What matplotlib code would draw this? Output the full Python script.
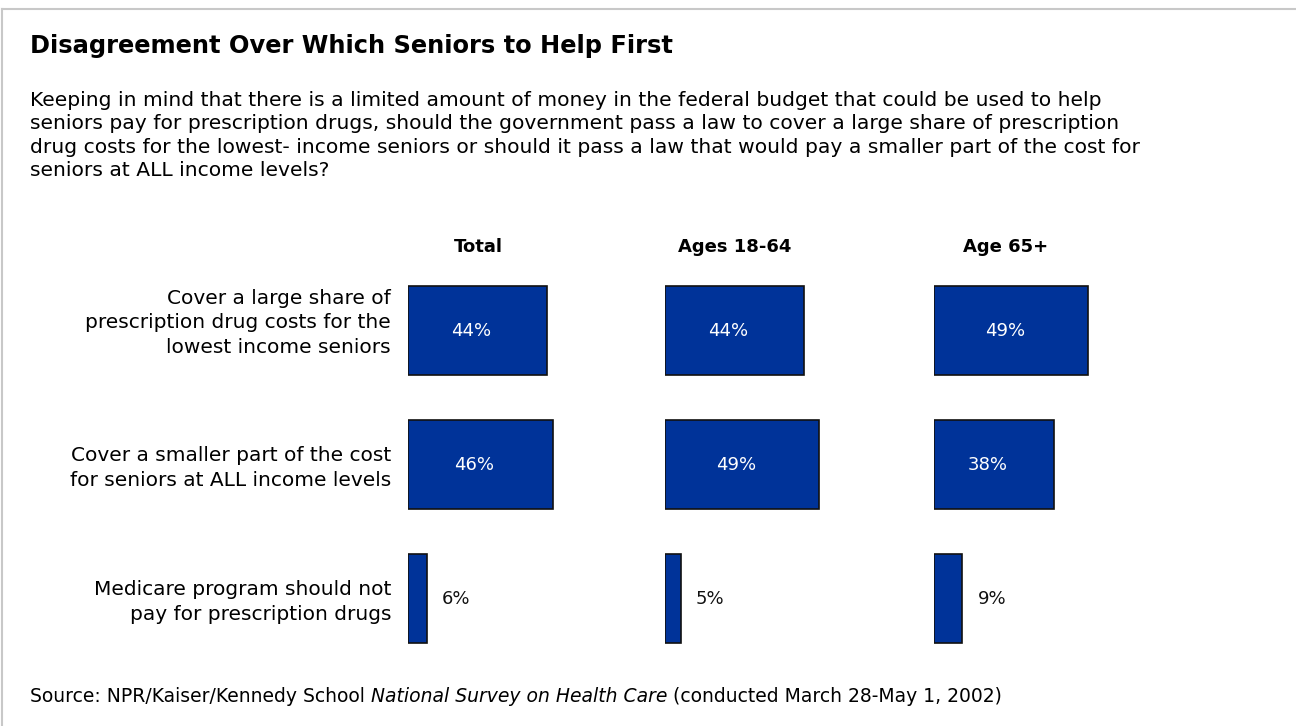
import matplotlib.pyplot as plt
from matplotlib.lines import Line2D

# survey answers, percent
groups = ['Total', 'Ages 18-64', 'Age 65+']
answers = ['Cover a large share of\nprescription drug costs for the\nlowest income seniors',
           'Cover a smaller part of the cost\nfor seniors at ALL income levels',
           'Medicare program should not\npay for prescription drugs']
total = [44, 46, 6]
ages_18_64 = [44, 49, 5]
ages_65_plus = [49, 38, 9]
values = [total, ages_18_64, ages_65_plus]

title = 'Disagreement Over Which Seniors to Help First'
question = ('Keeping in mind that there is a limited amount of money in the federal budget that could be used to help\n'
            'seniors pay for prescription drugs, should the government pass a law to cover a large share of prescription\n'
            'drug costs for the lowest- income seniors or should it pass a law that would pay a smaller part of the cost for\n'
            'seniors at ALL income levels?')
source_parts = [('Source: NPR/Kaiser/Kennedy School ', 'normal'),
                ('National Survey on Health Care', 'italic'),
                (' (conducted March 28-May 1, 2002)', 'normal')]

W, H = 1296, 726
BAR_COLOR = '#003399'

fig = plt.figure(figsize=(W / 100, H / 100), dpi=100)
fig.patch.set_facecolor('white')


def fx(px):
    return px / W


def fy(py):
    return 1 - py / H


# light gray frame at top and left
fig.add_artist(Line2D([fx(2), fx(W)], [fy(9), fy(9)], color='#c8c8c8', lw=1.5))
fig.add_artist(Line2D([fx(2), fx(2)], [fy(9), fy(H)], color='#c8c8c8', lw=1.5))

fig.text(fx(30), fy(46), title, fontsize=17.4, fontweight='bold', va='center', ha='left')
fig.text(fx(30), fy(91), question, fontsize=14.6, va='top', ha='left', linespacing=1.29)

# one axes per group; 3.15 px per percent
px_per_pct = 3.15
lefts = [408, 665, 934]
ax_top, ax_bot = 263.5, 665.5
xmax = 60
for left, vals in zip(lefts, values):
    ax = fig.add_axes([fx(left), fy(ax_bot), xmax * px_per_pct / W, (ax_bot - ax_top) / H])
    ax.barh(range(len(vals)), vals, height=0.67, color=BAR_COLOR, edgecolor='#111111', linewidth=1.2)
    ax.set_xlim(0, xmax)
    ax.set_ylim(2.5, -0.5)
    ax.axis('off')
    for i, v in enumerate(vals):
        if v >= 20:
            ax.text(v / 2 - 2, i, f'{v}%', color='white', fontsize=13, ha='center', va='center')
        else:
            ax.annotate(f'{v}%', (v, i), xytext=(11, 0), textcoords='offset points',
                        fontsize=13, ha='left', va='center', color='#111111')

# column headers
header_x = [478, 735, 1006]
for hx, grp in zip(header_x, groups):
    fig.text(fx(hx), fy(247), grp, fontsize=13, fontweight='bold', ha='center', va='center')

# answer labels, right aligned next to the bars
row_centers = [323, 468, 602]
for rc, ans in zip(row_centers, answers):
    fig.text(fx(391), fy(rc), ans, fontsize=14.5, ha='right', va='center',
             multialignment='right', linespacing=1.36)

# source line with italic survey name
fig.canvas.draw()
renderer = fig.canvas.get_renderer()
x = fx(30)
for part, style in source_parts:
    t = fig.text(x, fy(697), part, fontsize=13.5, style=style, ha='left', va='center')
    bb = t.get_window_extent(renderer)
    x += bb.width / W

fig.savefig('out.png', dpi=100)
